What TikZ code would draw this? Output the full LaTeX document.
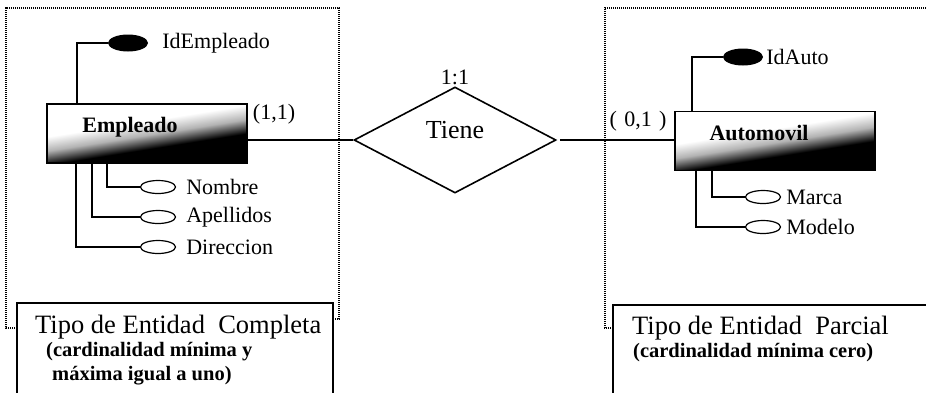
\documentclass[tikz,border=0pt]{standalone}
\usepackage{fontspec}
\setmainfont{Liberation Serif}
\usetikzlibrary{shapes.geometric,positioning}

\pgfdeclareverticalshading{entshade}{100bp}{color(0bp)=(black); color(40bp)=(black); color(49bp)=(gray!60); color(58bp)=(white); color(100bp)=(white)}

\tikzset{
  entidad/.style={draw, line width=1.8pt, minimum width=200pt, minimum height=59pt, inner sep=0pt,
    shading=entshade, shading angle=9},
  enttxt/.style={font=\fontsize{22}{24}\selectfont\bfseries, inner sep=0pt},
  relacion/.style={draw, diamond, line width=1.6pt, minimum width=202pt, minimum height=106pt, inner sep=0pt},
  clave/.style={ellipse, fill=black, minimum width=40pt, minimum height=17pt, inner sep=0pt},
  atrib/.style={ellipse, draw, line width=1.2pt, minimum width=35pt, minimum height=13pt, inner sep=0pt},
  atribtxt/.style={font=\fontsize{22}{24}\selectfont, anchor=west, inner sep=0pt},
  card/.style={font=\fontsize{22}{24}\selectfont, inner sep=0pt},
  conn/.style={line width=1.4pt},
  marco/.style={dash pattern=on 1.2pt off 0.8pt, line width=1.2pt},
  caja/.style={line width=1.5pt},
  tipotxt/.style={font=\fontsize{26.5}{28}\selectfont, anchor=west, inner sep=0pt},
  notatxt/.style={font=\fontsize{20.5}{22}\selectfont\bfseries, anchor=west, inner sep=0pt}
}

\begin{document}
\begin{tikzpicture}[x=1pt, y=-1pt]
    \clip (0,0) rectangle (926,392);
    % Frames
    \draw[marco] (17,328) -- (6,328) -- (6,8) -- (339,8) -- (339,319) -- (335,319);
    \draw[marco] (613,328) -- (605,328) -- (605,8) -- (940,8);
    \draw[caja] (17,420) -- (17,303) -- (333,303) -- (333,420);
    \draw[caja] (613,420) -- (613,305) -- (940,305);
    \node[tipotxt] (tipocompleta) at (35,327) {Tipo de Entidad\ \ Completa};
    \node[notatxt] (notacompleta) at (46,352) {(cardinalidad mínima y};
    \node[notatxt] (notacompletab) at (52,376) {máxima igual a uno)};
    \node[tipotxt] (tipoparcial) at (632,328) {Tipo de Entidad\ \ Parcial};
    \node[notatxt] (notaparcial) at (633,353) {(cardinalidad mínima cero)};
    % Entities
    \node[entidad] (empleado) at (147,133.5) {};
    \node[enttxt] (empleadotxt) at (130,127) {Empleado};
    \node[entidad] (automovil) at (775,141) {};
    \node[enttxt] (automoviltxt) at (759,133) {Automovil};
    % Relationship
    \node[relacion] (tiene) at (455,140) {};
    \node[font=\fontsize{26}{28}\selectfont, inner sep=0pt] (tienetxt) at (455,130) {Tiene};
    \node[card] (tienecard) at (455,77) {1:1};
    \draw[conn] (empleado.east |- tiene.west) -- (tiene.west);
    \draw[conn] ([xshift=3pt]tiene.east) -- (tiene.east -| automovil.west);
    \node[card] (cardemp) at (274,114) {(1,1)};
    \node[card] (cardauto) at (638,121) {(\,\,0,1\,\,)};
    % Attributes of Empleado
    \node[clave] (idempleado) at (128,43) {};
    \node[atribtxt, right=14pt of idempleado] (idempleadotxt) {IdEmpleado};
    \node[atrib] (nombre) at (158,187) {};
    \node[atribtxt, right=10pt of nombre] (nombretxt) {Nombre};
    \node[atrib] (apellidos) at (158,217) {};
    \node[atribtxt, right=10pt of apellidos] (apellidostxt) {Apellidos};
    \node[atrib] (direccion) at (158,247) {};
    \node[atribtxt, right=10pt of direccion] (direcciontxt) {Direccion};
    \draw[conn] ([xshift=31pt]empleado.north west) |- (idempleado.west);
    \draw[conn] ([xshift=61pt]empleado.south west) |- (nombre.west);
    \draw[conn] ([xshift=46pt]empleado.south west) |- (apellidos.west);
    \draw[conn] ([xshift=30pt]empleado.south west) |- (direccion.west);
    % Attributes of Automovil
    \node[clave] (idauto) at (743,57) {};
    \node[atribtxt, right=3pt of idauto] (idautotxt) {IdAuto};
    \node[atrib] (marca) at (763,197) {};
    \node[atribtxt, right=5pt of marca] (marcatxt) {Marca};
    \node[atrib] (modelo) at (763,227) {};
    \node[atribtxt, right=5pt of modelo] (modelotxt) {Modelo};
    \draw[conn] ([xshift=18pt]automovil.north west) |- (idauto.west);
    \draw[conn] ([xshift=38pt]automovil.south west) |- (marca.west);
    \draw[conn] ([xshift=22pt]automovil.south west) |- (modelo.west);
\end{tikzpicture}
\end{document}
